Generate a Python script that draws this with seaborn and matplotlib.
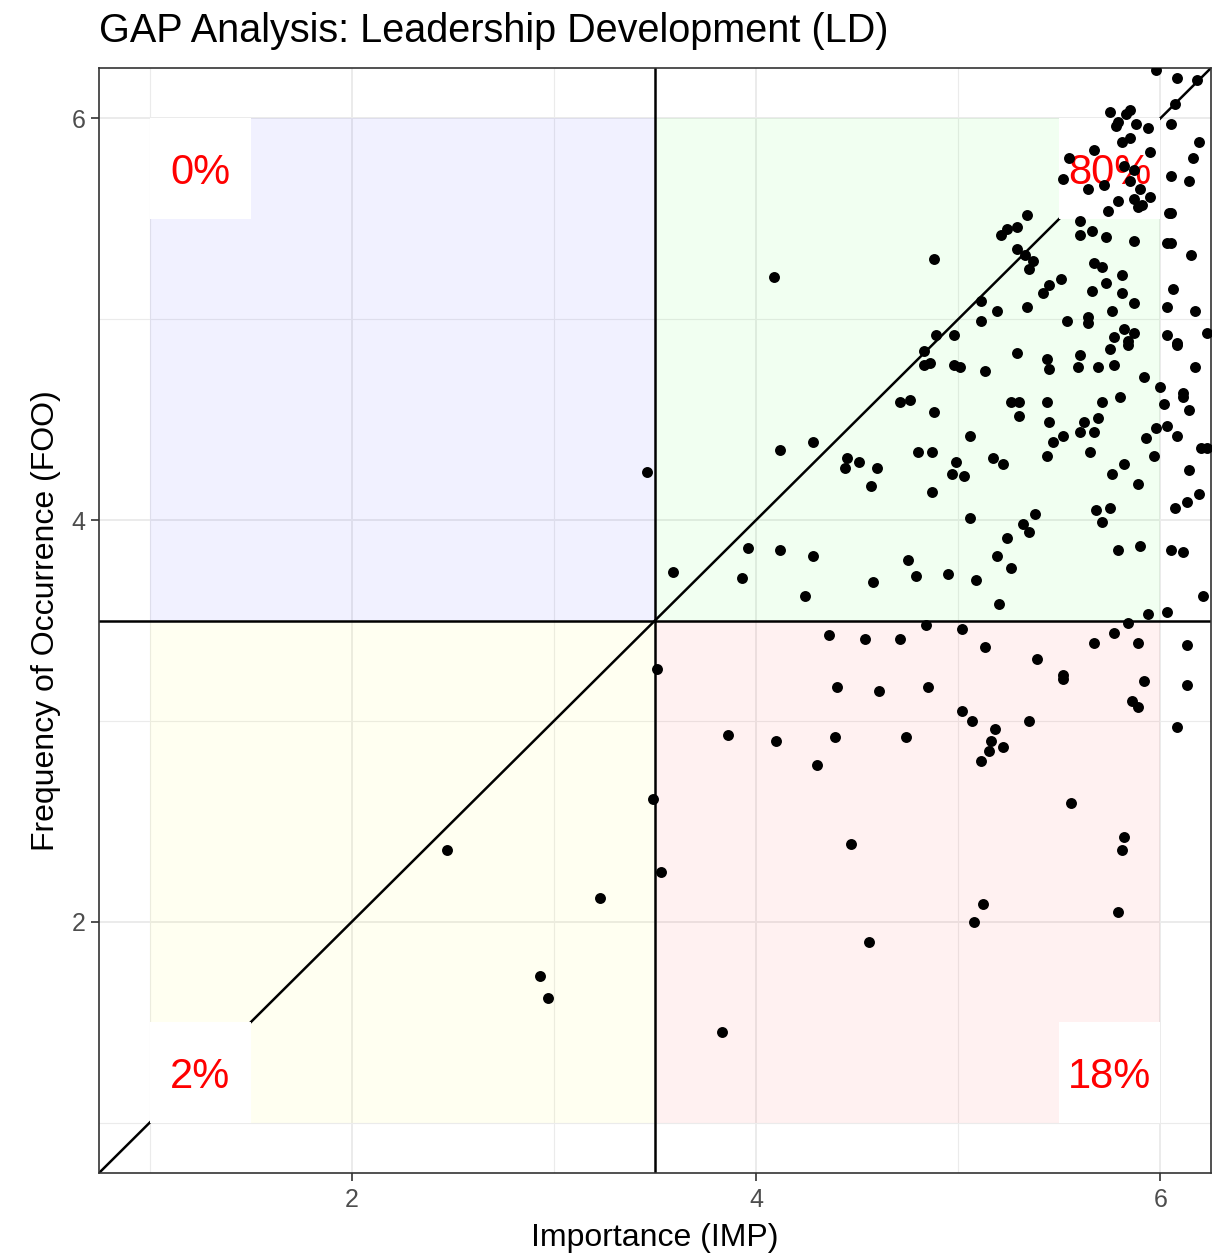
import pandas as pd
import seaborn as sns
import matplotlib.pyplot as plt
from matplotlib.patches import Rectangle
from matplotlib.ticker import MultipleLocator

# Importance (IMP) and Frequency of Occurrence (FOO) per item
imp = [
    # upper right
    4.09, 5.98, 6.08, 6.18, 6.07, 5.75, 5.83, 5.85, 5.79, 5.78, 5.88, 5.94, 6.05, 5.81, 5.85,
    6.19, 5.67, 5.95, 6.16, 5.55, 5.82, 5.87, 5.52, 5.64, 5.72, 5.85, 5.90, 6.05, 6.14, 5.79,
    5.74, 5.87, 5.89, 5.91, 5.95, 6.04, 6.05, 5.60, 5.34, 5.29, 5.24, 5.21, 5.60, 5.66, 5.73,
    5.87, 6.03, 6.05, 4.88, 5.29, 5.33, 5.37, 5.35, 5.67, 5.71, 5.81, 6.15, 5.51, 5.45, 5.42,
    5.73, 5.66, 5.81, 5.11, 6.06, 5.34, 5.19, 5.11, 5.54, 5.64, 5.64, 5.76, 5.87, 6.03, 6.17,
    4.89, 4.98, 5.77, 5.82, 5.87, 5.84, 6.03, 6.08, 6.23,
    4.83, 4.83, 4.86, 4.71, 4.76, 4.88, 4.12, 4.28, 4.45, 4.44, 4.51, 4.60, 4.57, 4.80, 4.87,
    4.87, 3.59, 3.96, 3.93, 4.12, 4.28, 4.24, 4.58, 4.75, 4.79,
    5.29, 4.98, 5.01, 5.13, 5.44, 5.45, 5.60, 5.59, 5.69, 5.75, 5.77, 5.84, 6.08, 5.92, 6.17,
    6.00, 6.02, 6.11, 6.11, 6.14, 5.26, 5.30, 5.30, 5.44, 5.45, 5.47, 5.52, 5.62, 5.60, 5.67,
    5.69, 5.71, 5.80, 5.65, 5.44, 5.06, 4.99, 4.97, 5.03, 5.17, 5.22, 5.93, 5.98, 6.03, 6.08,
    5.97, 5.82, 5.76, 5.89, 6.20, 6.23, 6.14, 6.19, 6.13, 6.07, 5.68, 5.75, 5.71, 5.06, 5.38,
    5.32, 5.35, 5.24, 5.19, 5.26, 4.95, 5.09, 5.20, 5.79, 5.90, 6.05, 6.11, 6.21, 5.94, 6.03,
    # upper left
    3.46,
    # lower right
    4.84, 4.36, 4.54, 4.71, 3.51, 4.40, 4.61, 4.85, 3.86, 4.10, 4.39, 4.74, 4.30, 4.47, 3.53,
    5.02, 5.13, 5.39, 5.52, 5.52, 5.67, 5.77, 5.84, 5.89, 5.92, 5.86, 5.89, 6.13, 6.13, 6.08,
    5.02, 5.07, 5.18, 5.16, 5.15, 5.22, 5.11, 5.35, 5.56, 5.82, 5.81, 5.12, 5.08, 5.79, 4.56,
    3.83,
    # lower left
    2.47, 3.23, 2.93, 2.97, 3.49,
]
foo = [
    # upper right
    5.21, 6.24, 6.20, 6.19, 6.07, 6.03, 6.02, 6.04, 5.98, 5.96, 5.97, 5.95, 5.97, 5.88, 5.90,
    5.88, 5.84, 5.83, 5.80, 5.80, 5.76, 5.74, 5.70, 5.65, 5.67, 5.69, 5.65, 5.71, 5.69, 5.59,
    5.54, 5.60, 5.56, 5.57, 5.61, 5.53, 5.53, 5.49, 5.52, 5.46, 5.45, 5.42, 5.42, 5.44, 5.41,
    5.39, 5.38, 5.38, 5.30, 5.35, 5.32, 5.29, 5.25, 5.28, 5.26, 5.22, 5.32, 5.20, 5.17, 5.13,
    5.18, 5.14, 5.13, 5.09, 5.15, 5.06, 5.04, 4.99, 4.99, 5.01, 4.98, 5.04, 5.08, 5.06, 5.04,
    4.92, 4.92, 4.91, 4.95, 4.93, 4.89, 4.92, 4.88, 4.93,
    4.84, 4.77, 4.78, 4.59, 4.60, 4.54, 4.35, 4.39, 4.31, 4.26, 4.29, 4.26, 4.17, 4.34, 4.34,
    4.14, 3.74, 3.86, 3.71, 3.85, 3.82, 3.62, 3.69, 3.80, 3.72,
    4.83, 4.77, 4.76, 4.74, 4.80, 4.75, 4.82, 4.76, 4.76, 4.85, 4.77, 4.87, 4.87, 4.71, 4.76,
    4.66, 4.58, 4.63, 4.61, 4.55, 4.59, 4.59, 4.52, 4.59, 4.49, 4.39, 4.42, 4.49, 4.44, 4.44,
    4.51, 4.59, 4.61, 4.34, 4.32, 4.42, 4.29, 4.23, 4.22, 4.31, 4.28, 4.41, 4.46, 4.47, 4.42,
    4.32, 4.28, 4.23, 4.18, 4.36, 4.36, 4.25, 4.13, 4.09, 4.06, 4.05, 4.06, 3.99, 4.01, 4.03,
    3.98, 3.94, 3.91, 3.82, 3.76, 3.73, 3.70, 3.58, 3.85, 3.87, 3.85, 3.84, 3.62, 3.53, 3.54,
    # upper left
    4.24,
    # lower right
    3.48, 3.43, 3.41, 3.41, 3.26, 3.17, 3.15, 3.17, 2.93, 2.90, 2.92, 2.92, 2.78, 2.39, 2.25,
    3.46, 3.37, 3.31, 3.23, 3.21, 3.39, 3.44, 3.49, 3.39, 3.20, 3.10, 3.07, 3.38, 3.18, 2.97,
    3.05, 3.00, 2.96, 2.90, 2.85, 2.87, 2.80, 3.00, 2.59, 2.42, 2.36, 2.09, 2.00, 2.05, 1.90,
    1.45,
    # lower left
    2.36, 2.12, 1.73, 1.62, 2.61,
]

# quadrant order: upper left, upper right, lower left, lower right
quad_labels = ["0%", "80%", "2%", "18%"]
quad_fills = ["blue", "lime", "yellow", "red"]
cutoff = 3.5
scale_min, scale_max = 1, 6

df = pd.DataFrame({"IMP": imp, "FOO": foo})

sns.set_theme(style="white")
plt.rcParams["font.family"] = ["Liberation Sans", "DejaVu Sans"]

W, H = 1217, 1255
fig = plt.figure(figsize=(W / 100, H / 100), dpi=100)
ax = fig.add_axes([99 / W, 1 - 1173 / H, (1211 - 99) / W, (1173 - 68) / H])

# shaded quadrants
corners = [(scale_min, cutoff), (cutoff, cutoff), (scale_min, scale_min), (cutoff, scale_min)]
for (x0, y0), col in zip(corners, quad_fills):
    ax.add_patch(Rectangle((x0, y0), cutoff - scale_min, scale_max - cutoff,
                           facecolor=col, alpha=0.055, edgecolor="none", zorder=1))

# y = x reference line
ax.axline((0, 0), (1, 1), color="black", lw=1.8, zorder=1.5)

# white label boxes with percentages
box = 0.5
spots = [(scale_min, scale_max - box), (scale_max - box, scale_max - box),
         (scale_min, scale_min), (scale_max - box, scale_min)]
for (x0, y0), lab in zip(spots, quad_labels):
    ax.add_patch(Rectangle((x0, y0), box, box, facecolor="white", edgecolor="none", zorder=2))
    ax.text(x0 + box / 2, y0 + box / 2, lab, color="red", fontsize=30,
            ha="center", va="center_baseline", zorder=2.5)

ax.axvline(cutoff, color="black", lw=1.8, zorder=2.2)
ax.axhline(cutoff, color="black", lw=1.8, zorder=2.2)

sns.scatterplot(data=df, x="IMP", y="FOO", color="black", s=62, linewidth=0,
                ax=ax, zorder=3)

ax.set_xlim(0.75, 6.25)
ax.set_ylim(0.75, 6.25)

ax.xaxis.set_major_locator(MultipleLocator(2))
ax.yaxis.set_major_locator(MultipleLocator(2))
ax.xaxis.set_minor_locator(MultipleLocator(1))
ax.yaxis.set_minor_locator(MultipleLocator(1))
ax.set_axisbelow(True)
ax.grid(which="major", color="#ebebeb", lw=1.4)
ax.grid(which="minor", color="#ebebeb", lw=0.8)

for sp in ax.spines.values():
    sp.set_color("#333333")
    sp.set_linewidth(1.2)
ax.tick_params(which="major", length=5.5, width=1.2, color="#333333",
               labelsize=18, labelcolor="#4d4d4d", bottom=True, left=True)
ax.tick_params(axis="x", pad=5)
ax.tick_params(axis="y", pad=4)
ax.tick_params(which="minor", length=0)

ax.set_xlabel("Importance (IMP)", fontsize=23, labelpad=8, color="black")
ax.set_ylabel("Frequency of Occurrence (FOO)", fontsize=23, labelpad=8, color="black")
ax.set_title("GAP Analysis: Leadership Development (LD)", loc="left",
             fontsize=28.5, pad=19, color="black")

fig.savefig("out.png", dpi=100)
